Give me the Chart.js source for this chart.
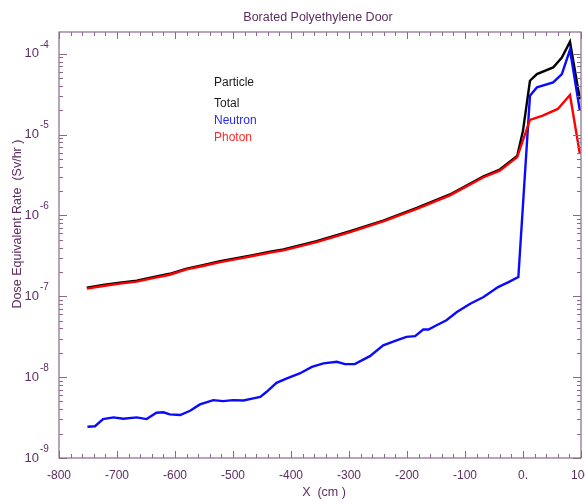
<!DOCTYPE html>
<html>
<head>
<meta charset="utf-8">
<title>Borated Polyethylene Door</title>
<script src="https://cdn.jsdelivr.net/npm/chart.js@4/dist/chart.umd.min.js"></script>
<style>
  html, body { margin: 0; padding: 0; background: #ffffff; }
  #wrap { width: 585px; height: 503px; }
</style>
</head>
<body>
<div id="wrap"><canvas id="c" width="585" height="503"></canvas></div>
<script>
// Dose equivalent rate (Sv/hr) along X (cm) through a borated polyethylene door
const xTotal = [-752, -724, -695, -666, -638, -609, -580, -552, -522, -494, -466, -436, -413,
                -356, -298, -241, -183, -126, -68, -40, -10, 0, 12, 24, 52, 67, 81, 98];
const total = [1.28e-7, 1.38e-7, 1.47e-7, 1.56e-7, 1.72e-7, 1.90e-7, 2.20e-7, 2.43e-7, 2.72e-7,
               2.96e-7, 3.23e-7, 3.56e-7, 3.80e-7, 4.80e-7, 6.38e-7, 8.65e-7, 1.24e-6, 1.82e-6,
               3.05e-6, 3.70e-6, 5.45e-6, 1.12e-5, 4.64e-5, 5.60e-5, 6.78e-5, 9.00e-5, 1.41e-4, 2.75e-5];

const xPhoton = [-752, -724, -695, -666, -638, -609, -580, -552, -522, -494, -466, -436, -413,
                 -356, -298, -241, -183, -126, -68, -40, -10, 12, 34, 60, 81, 98];
const photon = [1.245e-7, 1.34e-7, 1.435e-7, 1.52e-7, 1.68e-7, 1.85e-7, 2.15e-7, 2.37e-7, 2.65e-7,
                2.89e-7, 3.15e-7, 3.47e-7, 3.70e-7, 4.68e-7, 6.22e-7, 8.43e-7, 1.21e-6, 1.77e-6,
                2.97e-6, 3.59e-6, 5.27e-6, 1.52e-5, 1.72e-5, 2.08e-5, 3.09e-5, 5.78e-6];

const xNeutron = [-751, -738, -724, -706, -689, -666, -649, -632, -620, -609, -591, -574, -557,
                  -534, -517, -500, -482, -465, -453, -442, -425, -407, -385, -364, -344, -321,
                  -307, -290, -264, -241, -218, -201, -186, -172, -163, -149, -132, -114, -91,
                  -68, -43, -25, -8, 12, 24, 52, 67, 81, 98];
const neutron = [2.44e-9, 2.47e-9, 3.03e-9, 3.18e-9, 3.06e-9, 3.18e-9, 3.03e-9, 3.63e-9, 3.68e-9,
                 3.46e-9, 3.40e-9, 3.84e-9, 4.60e-9, 5.20e-9, 5.06e-9, 5.20e-9, 5.15e-9, 5.46e-9,
                 5.71e-9, 6.59e-9, 8.50e-9, 9.64e-9, 1.11e-8, 1.34e-8, 1.48e-8, 1.55e-8, 1.45e-8,
                 1.45e-8, 1.82e-8, 2.48e-8, 2.86e-8, 3.15e-8, 3.22e-8, 3.88e-8, 3.88e-8, 4.39e-8,
                 5.06e-8, 6.40e-8, 8.10e-8, 9.80e-8, 1.30e-7, 1.50e-7, 1.73e-7, 3.03e-5, 3.84e-5,
                 4.43e-5, 5.60e-5, 1.12e-4, 1.98e-5];

const xTickValues = [-800, -700, -600, -500, -400, -300, -200, -100, 0, 100];
const xTickLabels = ['-800', '-700', '-600', '-500', '-400', '-300', '-200', '-100', '0.', '100'];
const yTickExponents = [-9, -8, -7, -6, -5, -4];

const legendItems = [
  { text: 'Particle', color: '#1a1a1a' },
  { text: 'Total', color: '#1a1a1a' },
  { text: 'Neutron', color: '#2a2aff' },
  { text: 'Photon', color: '#ff2a2a' }
];

const titleText = 'Borated Polyethylene Door';
const xTitle = 'X  (cm )';
const yTitle = 'Dose Equivalent Rate  (Sv/hr )';

const AXIS_COLOR = '#8a6a8c';
const TEXT_COLOR = '#5c2d60';
const FONT = '"Liberation Sans", Arial, sans-serif';

function pts(xs, ys) { return xs.map((x, i) => ({ x: x, y: ys[i] })); }

// Frame, inward ticks, tick labels, titles and the text legend
const framePlugin = {
  id: 'frame',
  afterDraw(chart) {
    const ctx = chart.ctx;
    const a = chart.chartArea;
    const xs = chart.scales.x, ys = chart.scales.y;
    ctx.save();
    ctx.strokeStyle = AXIS_COLOR;
    ctx.lineWidth = 1.2;
    ctx.strokeRect(a.left, a.top, a.right - a.left, a.bottom - a.top);

    // x ticks: major every 100, minor every 20
    ctx.lineWidth = 1;
    for (let v = xs.min; v <= xs.max + 1e-6; v += 20) {
      const px = Math.round(xs.getPixelForValue(v)) + 0.5;
      const major = Math.abs(v % 100) < 1e-6;
      const len = major ? 7 : 4;
      ctx.beginPath();
      ctx.moveTo(px, a.bottom); ctx.lineTo(px, a.bottom - len);
      ctx.moveTo(px, a.top); ctx.lineTo(px, a.top + len);
      ctx.stroke();
    }
    // y ticks: decades and 2..9 minors
    for (let e = -9; e <= -4; e++) {
      for (let m = 1; m <= 9; m++) {
        const v = m * Math.pow(10, e);
        if (v < ys.min * 0.999 || v > ys.max * 1.001) continue;
        const py = Math.round(ys.getPixelForValue(v)) + 0.5;
        const len = m === 1 ? 8 : 4;
        ctx.beginPath();
        ctx.moveTo(a.left, py); ctx.lineTo(a.left + len, py);
        ctx.moveTo(a.right, py); ctx.lineTo(a.right - len, py);
        ctx.stroke();
      }
    }

    ctx.fillStyle = TEXT_COLOR;
    // x tick labels
    ctx.font = '12px ' + FONT;
    ctx.textAlign = 'center';
    ctx.textBaseline = 'middle';
    xTickValues.forEach((v, i) => {
      ctx.fillText(xTickLabels[i], xs.getPixelForValue(v), a.bottom + 18);
    });
    // y tick labels as 10 with superscript exponent
    yTickExponents.forEach(e => {
      const py = ys.getPixelForValue(Math.pow(10, e));
      ctx.font = '13px ' + FONT;
      ctx.textAlign = 'right';
      ctx.textBaseline = 'middle';
      ctx.fillText('10', a.left - 20, py);
      ctx.font = '10px ' + FONT;
      ctx.textAlign = 'left';
      ctx.fillText(String(e), a.left - 19, py - 9);
    });

    // title and axis titles
    ctx.font = '12.5px ' + FONT;
    ctx.textAlign = 'center';
    ctx.textBaseline = 'middle';
    ctx.fillText(titleText, 318, 18);
    ctx.font = '12.5px ' + FONT;
    ctx.fillText(xTitle, 324, 493);
    ctx.save();
    ctx.translate(18, 224);
    ctx.rotate(-Math.PI / 2);
    ctx.fillText(yTitle, 0, 0);
    ctx.restore();

    // text legend
    ctx.font = '12px ' + FONT;
    ctx.textAlign = 'left';
    const legendY = [83, 104, 121, 138];
    legendItems.forEach((it, i) => {
      ctx.fillStyle = it.color;
      ctx.fillText(it.text, 214, legendY[i]);
    });
    ctx.restore();
  }
};

new Chart(document.getElementById('c'), {
  type: 'line',
  data: {
    datasets: [
      { label: 'Photon', data: pts(xPhoton, photon), borderColor: '#ff0000', order: 0 },
      { label: 'Neutron', data: pts(xNeutron, neutron), borderColor: '#0a0aff', order: 1 },
      { label: 'Total', data: pts(xTotal, total), borderColor: '#000000', order: 2 }
    ]
  },
  options: {
    responsive: false,
    animation: false,
    parsing: true,
    layout: { padding: { left: 59, right: 4, top: 32, bottom: 45 } },
    elements: {
      line: { borderWidth: 2.4, tension: 0, fill: false },
      point: { radius: 0, hoverRadius: 0 }
    },
    scales: {
      x: { type: 'linear', min: -800, max: 100, display: false },
      y: { type: 'logarithmic', min: 1e-9, max: 1.86e-4, display: false }
    },
    plugins: {
      legend: { display: false },
      title: { display: false },
      tooltip: { enabled: false }
    }
  },
  plugins: [framePlugin]
});
</script>
</body>
</html>
